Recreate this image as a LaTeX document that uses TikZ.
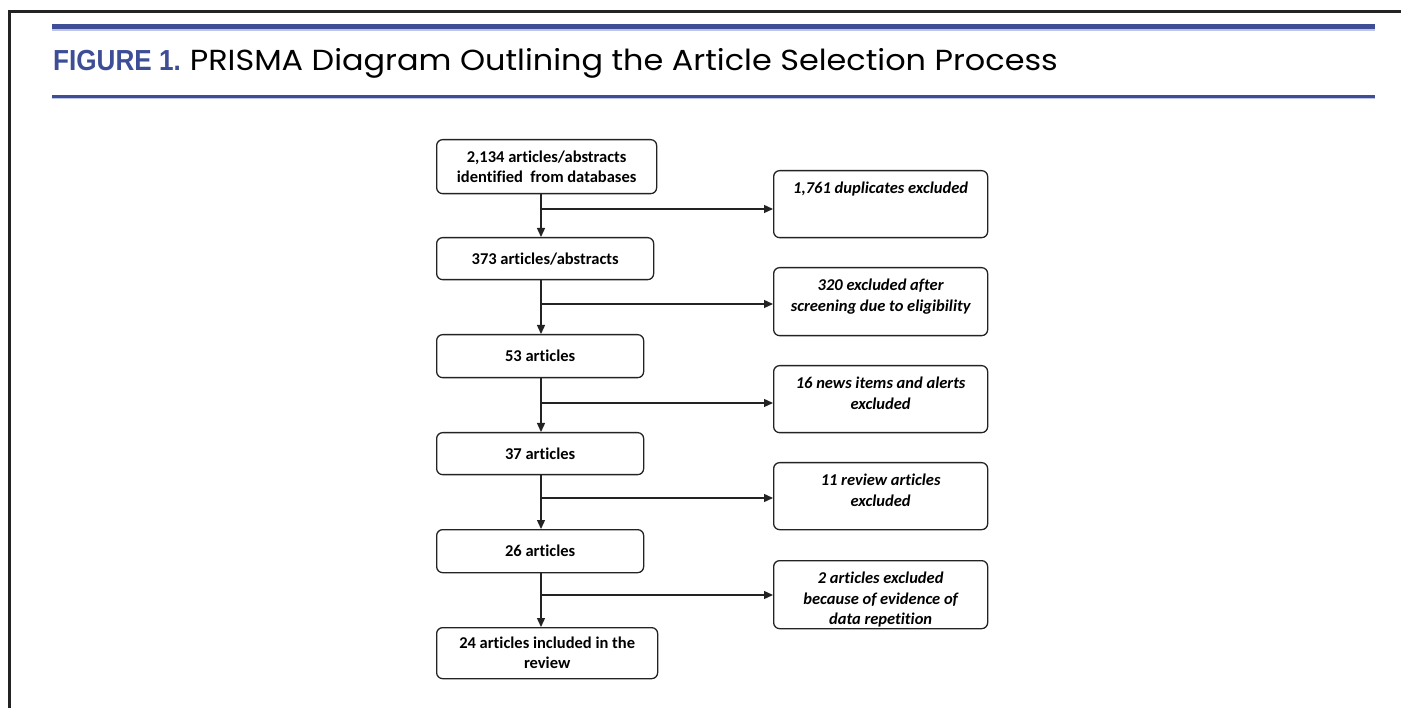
\documentclass[tikz,border=0pt]{standalone}
\usepackage{fontspec}
\setmainfont[Ligatures=NoCommon]{Carlito}
\newfontfamily\titlefont[FakeStretch=1.1]{Poppins}
\newfontfamily\figfont[FakeStretch=0.9]{Liberation Sans}
\usetikzlibrary{positioning,arrows.meta}
\definecolor{figblue}{RGB}{62,78,150}
\definecolor{edgeblue}{RGB}{190,197,228}
\definecolor{inkgray}{RGB}{35,35,35}

\begin{document}
\begin{tikzpicture}[x=1pt,y=-1pt,
    stagebox/.style={draw=inkgray,line width=1.3pt,rounded corners=6pt,anchor=north west,
        minimum width=207pt,inner sep=0pt,align=center,font=\fontsize{16.5}{20}\selectfont\bfseries},
    exbox/.style={draw=inkgray,line width=1.3pt,rounded corners=6pt,anchor=north west,
        minimum width=214pt},
    extext/.style={inner sep=0pt,align=center,font=\fontsize{16.5}{20.5}\selectfont\bfseries\itshape},
    flow/.style={draw=inkgray,line width=1.3pt,-{Triangle[length=9pt,width=8pt]}}]
    \useasboundingbox (0,0) rectangle (1401,708);
    %frame
    \draw [line width=2.6pt,inkgray](9.7,708) -- (9.7,11.3) -- (1401,11.3);
    \fill [figblue](52,24) rectangle (1375,29.5);
    \fill [edgeblue](52,29.5) rectangle (1375,31);
    \fill [figblue](52,95) rectangle (1375,98);
    \fill [edgeblue](52,98) rectangle (1375,99.3);
    %title
    \node (title) at (53,71)[anchor=base west,inner sep=0pt,font=\fontsize{29}{34}\selectfont]
        {{\figfont\bfseries\color{figblue}FIGURE 1.}\hspace{9pt}\titlefont PRISMA Diagram Outlining the Article Selection Process};
    %stages
    \node (b1) at (436,139)[stagebox,minimum width=220pt,minimum height=54pt]
        {2,134 articles/abstracts\\identified\ \ from databases};
    \node (b2) at (436,237)[stagebox,minimum width=217pt,minimum height=42pt] {373 articles/abstracts};
    \node (b3) at (436,334)[stagebox,minimum height=43pt] {53 articles};
    \node (b4) at (436,432)[stagebox,minimum height=42pt] {37 articles};
    \node (b5) at (436,529)[stagebox,minimum height=43pt] {26 articles};
    \node (b6) at (436,627)[stagebox,minimum width=221pt,minimum height=51pt]
        {24 articles included in the\\review};
    %exclusions
    \node (ex1) at (773,170)[exbox,minimum height=67pt] {};
    \node (ex1t)[extext,below=12pt of ex1.north] {1,761 duplicates excluded};
    \node (ex2) at (773,267)[exbox,minimum height=68pt] {};
    \node (ex2t)[extext,below=12pt of ex2.north] {320 excluded after\\screening due to eligibility};
    \node (ex3) at (773,365)[exbox,minimum height=67pt] {};
    \node (ex3t)[extext,below=12pt of ex3.north] {16 news items and alerts\\excluded};
    \node (ex4) at (773,462)[exbox,minimum height=67pt] {};
    \node (ex4t)[extext,below=12pt of ex4.north] {11 review articles\\excluded};
    \node (ex5) at (773,560)[exbox,minimum height=68pt] {};
    \node (ex5t)[extext,below=12pt of ex5.north] {2 articles excluded\\because of evidence of\\data repetition};
    %junctions
    \coordinate (j1) at (541,209);
    \coordinate (j2) at (541,304);
    \coordinate (j3) at (541,403);
    \coordinate (j4) at (541,498);
    \coordinate (j5) at (541,595);
    %edges
    \draw [flow](b1.south -| j1) -- (b2.north -| j1);
    \draw [flow](j1) -- (j1 -| ex1.west);
    \draw [flow](b2.south -| j2) -- (b3.north -| j2);
    \draw [flow](j2) -- (j2 -| ex2.west);
    \draw [flow](b3.south -| j3) -- (b4.north -| j3);
    \draw [flow](j3) -- (j3 -| ex3.west);
    \draw [flow](b4.south -| j4) -- (b5.north -| j4);
    \draw [flow](j4) -- (j4 -| ex4.west);
    \draw [flow](b5.south -| j5) -- (b6.north -| j5);
    \draw [flow](j5) -- (j5 -| ex5.west);
\end{tikzpicture}
\end{document}
